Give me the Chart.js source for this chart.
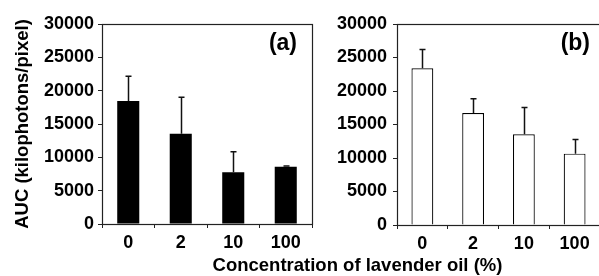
<!DOCTYPE html>
<html>
<head>
<meta charset="utf-8">
<script src="https://cdn.jsdelivr.net/npm/chart.js@4/dist/chart.umd.min.js"></script>
<style>
  html, body { margin: 0; padding: 0; background: #fff; overflow: hidden; }
  #wrap { position: relative; width: 599px; height: 276px; }
  canvas { position: absolute; top: 0; }
  #xtitle {
    position: absolute; left: 0; width: 715px; top: 254px; text-align: center;
    font: bold 18.5px "Liberation Sans", Arial, sans-serif; color: #000;
  }
</style>
</head>
<body>
<div id="wrap">
  <canvas id="chartA" width="316" height="276" style="left:0"></canvas>
  <canvas id="chartB" width="300" height="276" style="left:300px"></canvas>
  <div id="xtitle">Concentration of lavender oil (%)</div>
</div>
<script>
const categories = ['0', '2', '10', '100'];
const meansA = [18450, 13550, 7750, 8600];
const errorsA = [3700, 5450, 3100, 100];
const meansB = [23400, 16700, 13550, 10650];
const errorsB = [2800, 2150, 4000, 2100];
const yTicks = [0, 5000, 10000, 15000, 20000, 25000, 30000];

const FONT = '"Liberation Sans", Arial, sans-serif';

// half error bars (upward) with a small cap
const errorBars = {
  id: 'errorBars',
  afterDatasetsDraw(chart, args, opts) {
    const ctx = chart.ctx;
    const y = chart.scales.y;
    const meta = chart.getDatasetMeta(0);
    const means = chart.data.datasets[0].data;
    ctx.save();
    ctx.strokeStyle = '#111';
    ctx.lineWidth = 1.5;
    meta.data.forEach((bar, i) => {
      const x = Math.round(bar.x) + 0.5;
      const y0 = y.getPixelForValue(means[i]);
      const y1 = y.getPixelForValue(means[i] + opts.errors[i]);
      ctx.beginPath();
      ctx.moveTo(x, y0);
      ctx.lineTo(x, y1);
      ctx.moveTo(x - 3, y1);
      ctx.lineTo(x + 3, y1);
      ctx.stroke();
    });
    ctx.restore();
  }
};

// frame around the plot and the panel letter
const frame = {
  id: 'frame',
  afterDraw(chart, args, opts) {
    const {ctx, chartArea: a} = chart;
    ctx.save();
    ctx.strokeStyle = '#222';
    ctx.lineWidth = 1.2;
    ctx.strokeRect(Math.round(a.left) + 0.5, Math.round(a.top) + 0.5,
      Math.round(a.right - a.left), Math.round(a.bottom - a.top));
    ctx.fillStyle = '#000';
    ctx.font = 'bold 23px ' + FONT;
    ctx.textAlign = 'right';
    ctx.textBaseline = 'middle';
    ctx.fillText(opts.label, a.right - opts.labelInset, a.top + 20);
    ctx.restore();
  }
};

function makeChart(id, means, errors, opts) {
  return new Chart(document.getElementById(id), {
    type: 'bar',
    data: {
      labels: categories,
      datasets: [{
        data: means,
        backgroundColor: opts.fill,
        borderColor: '#000',
        borderWidth: opts.border,
        barPercentage: opts.barPct,
        categoryPercentage: 1
      }]
    },
    options: {
      responsive: false,
      animation: false,
      events: [],
      layout: { padding: { top: 24, right: opts.padRight, left: 0, bottom: 0 } },
      plugins: {
        legend: { display: false },
        tooltip: { enabled: false },
        errorBars: { errors: errors },
        frame: { label: opts.label, labelInset: opts.labelInset }
      },
      scales: {
        x: {
          grid: { display: true, drawOnChartArea: false, offset: true, tickLength: 4, color: '#222' },
          border: { display: false },
          ticks: { color: '#000', font: { family: FONT, size: 18, weight: 'bold' }, padding: 4 },
          afterFit(s) { s.height = opts.xHeight; }
        },
        y: {
          min: 0,
          max: 30000,
          afterBuildTicks(s) { s.ticks = yTicks.map(v => ({ value: v })); },
          grid: { display: true, drawOnChartArea: false, tickLength: 4, color: '#222' },
          border: { display: false },
          ticks: {
            color: '#000',
            font: { family: FONT, size: 18, weight: 'bold' },
            padding: opts.yPad,
            callback: v => String(v)
          },
          title: {
            display: opts.yTitle !== '',
            text: opts.yTitle,
            color: '#000',
            font: { family: FONT, size: 18.5, weight: 'bold' },
            padding: { top: 12, bottom: 0 }
          },
          afterFit(s) { s.width = opts.yWidth; }
        }
      }
    },
    plugins: [errorBars, frame]
  });
}

makeChart('chartA', meansA, errorsA, {
  fill: '#000', border: 0, barPct: 0.42, padRight: 4, xHeight: 52,
  yWidth: 102, yPad: 4, yTitle: 'AUC (kilophotons/pixel)', label: '(a)', labelInset: 15
});
makeChart('chartB', meansB, errorsB, {
  fill: '#fff', border: 1.2, barPct: 0.43, padRight: 0, xHeight: 51,
  yWidth: 97, yPad: 6, yTitle: '', label: '(b)', labelInset: 10
});
</script>
</body>
</html>
